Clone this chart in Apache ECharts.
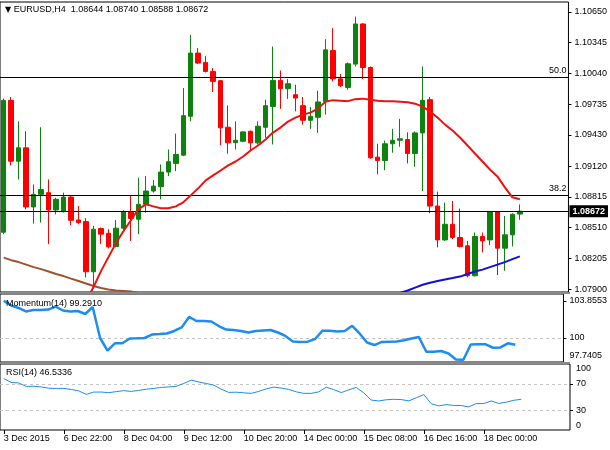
<!DOCTYPE html>
<html><head><meta charset="utf-8">
<script src="https://cdn.jsdelivr.net/npm/echarts@6/dist/echarts.min.js"></script>
<style>html,body{margin:0;padding:0;background:#fff}#c{width:610px;height:450px}</style>
</head><body><div id="c"></div>
<script>
// ---- data (EURUSD H4) ----
const opens  = [1.08464,1.09773,1.09169,1.09302,1.08715,1.08840,1.08857,1.08685,1.08669,1.08813,
                1.08586,1.08570,1.08072,1.08501,1.08454,1.08323,1.08504,1.08669,1.08593,1.08741,
                1.08873,1.08916,1.09061,1.09147,1.09229,1.09615,1.10242,1.10149,1.10060,1.09968,
                1.09506,1.09354,1.09367,1.09466,1.09351,1.09506,1.09713,1.09971,1.09888,1.09829,
                1.09720,1.09575,1.09605,1.09763,1.10267,1.09987,1.09901,1.10133,1.10531,1.10099,
                1.09209,1.09176,1.09342,1.09377,1.09384,1.09246,1.09450,1.09780,1.08724,1.08388,
                1.08543,1.08412,1.08329,1.08032,1.08422,1.08388,1.08669,1.08306,1.08438,1.08644];
const closes = [1.09773,1.09169,1.09302,1.08715,1.08840,1.08887,1.08685,1.08791,1.08813,1.08583,
                1.08560,1.08072,1.08494,1.08445,1.08319,1.08504,1.08669,1.08600,1.08741,1.08873,
                1.08922,1.09061,1.09164,1.09236,1.09621,1.10242,1.10143,1.10060,1.09961,1.09500,
                1.09351,1.09377,1.09460,1.09351,1.09516,1.09720,1.09971,1.09888,1.09938,1.09796,
                1.09575,1.09615,1.09757,1.10274,1.09987,1.09918,1.10136,1.10531,1.10099,1.09203,
                1.09176,1.09342,1.09377,1.09391,1.09246,1.09450,1.09773,1.08724,1.08388,1.08543,
                1.08412,1.08323,1.08032,1.08422,1.08378,1.08669,1.08306,1.08438,1.08642,1.08672];
const lows   = [1.08445,1.09127,1.08988,1.08692,1.08550,1.08560,1.08346,1.08642,1.08659,1.08534,
                1.08543,1.08016,1.07933,1.08346,1.08303,1.08313,1.08487,1.08378,1.08445,1.08659,
                1.08857,1.08791,1.09021,1.09071,1.09219,1.09565,1.10133,1.10050,1.09856,1.09328,
                1.09243,1.09285,1.09357,1.09268,1.09335,1.09401,1.09335,1.09688,1.09787,1.09664,
                1.09532,1.09490,1.09450,1.09631,1.09961,1.09905,1.09879,1.10109,1.09984,1.09193,
                1.09038,1.09080,1.09253,1.09312,1.09147,1.09114,1.08873,1.08652,1.08313,1.08378,
                1.08395,1.08313,1.08016,1.08026,1.08264,1.08336,1.08039,1.08082,1.08323,1.08588];
const highs  = [1.09790,1.09806,1.09565,1.09466,1.08939,1.09506,1.08988,1.08807,1.08857,1.08823,
                1.08724,1.08603,1.08527,1.08511,1.08494,1.08586,1.08682,1.08823,1.09005,1.09021,
                1.08982,1.09137,1.09285,1.09443,1.09895,1.10423,1.10291,1.10215,1.10093,1.09977,
                1.09723,1.09565,1.09466,1.09473,1.09565,1.09780,1.10307,1.10069,1.09984,1.09928,
                1.09806,1.09707,1.09869,1.10380,1.10489,1.10034,1.10149,1.10604,1.10538,1.10109,
                1.09342,1.09374,1.09490,1.09589,1.09456,1.09466,1.10109,1.09806,1.08867,1.08758,
                1.08774,1.08699,1.08378,1.08461,1.08461,1.08675,1.08675,1.08626,1.08652,1.08740];

// moving averages, with the bar index where each starts
const maRedStart = 11;
const maRed = [1.07780,1.07920,1.08078,1.08217,1.08356,1.08474,1.08583,1.08692,1.08741,1.08721,
               1.08702,1.08702,1.08721,1.08761,1.08830,1.08900,1.08979,1.09028,1.09077,1.09127,
               1.09166,1.09216,1.09275,1.09325,1.09384,1.09453,1.09503,1.09562,1.09602,1.09631,
               1.09651,1.09691,1.09760,1.09775,1.09770,1.09765,1.09785,1.09790,1.09780,1.09770,
               1.09765,1.09763,1.09760,1.09755,1.09740,1.09710,1.09661,1.09602,1.09532,1.09473,
               1.09404,1.09325,1.09246,1.09166,1.09087,1.09018,1.08909,1.08811,1.08791];
const maBlueStart = 53;
const maBlue = [1.07861,1.07886,1.07915,1.07943,1.07963,1.07980,1.07995,1.08009,1.08024,1.08049,
                1.08074,1.08093,1.08118,1.08143,1.08168,1.08197,1.08224];
const maBrownStart = 0;
const maBrown = [1.08212,1.08187,1.08168,1.08143,1.08118,1.08098,1.08074,1.08049,1.08029,1.08004,
                 1.07980,1.07955,1.07930,1.07910,1.07896,1.07886,1.07881,1.07876,1.07861];

const momentum = [103.86,103.37,103.11,102.75,102.90,102.90,102.95,103.26,102.85,102.75,
                  102.80,102.49,103.21,100.00,98.70,99.45,99.45,99.95,99.97,100.00,
                  100.36,100.41,100.47,100.73,101.09,102.18,101.76,101.76,101.71,101.24,
                  100.88,100.83,100.73,100.57,100.73,100.78,100.83,100.57,100.21,99.64,
                  99.59,99.62,99.90,100.76,100.76,100.67,100.73,101.26,100.47,99.53,
                  99.27,99.59,99.62,99.64,99.76,99.95,100.10,98.58,98.58,98.65,
                  98.39,97.78,97.74,99.33,99.35,99.35,98.99,99.02,99.45,99.291];
const rsi = [78.0,72.0,71.3,66.0,66.3,65.3,63.3,63.0,63.0,61.5,
             59.3,54.0,57.5,57.5,56.6,58.1,59.6,58.5,60.0,61.8,
             63.0,64.5,65.3,66.3,70.5,75.5,72.8,70.5,68.0,61.8,
             57.0,57.3,56.3,55.5,58.5,62.3,65.0,63.5,61.5,57.8,
             55.5,55.5,57.8,64.8,61.2,56.7,60.8,64.5,56.3,45.3,
             44.0,45.8,46.5,46.1,44.1,48.8,53.7,39.8,36.6,38.4,
             37.2,37.1,35.0,40.1,40.1,44.0,40.2,42.2,45.0,46.53];

const timeLabels = ['3 Dec 2015','6 Dec 22:00','8 Dec 04:00','9 Dec 12:00','10 Dec 20:00',
                    '14 Dec 00:00','15 Dec 08:00','16 Dec 16:00','18 Dec 00:00'];
const priceTicks = ['1.07900','1.08205','1.08510','1.08815','1.09120','1.09430','1.09735','1.10040','1.10345','1.10650'];
const momTicks = ['97.7405','100','103.8553'];
const rsiTicks = ['0','30','70','100'];
const fibLevels = [{name:'50.0', value:1.10000},{name:'38.2', value:1.08830}];
const lastPrice = '1.08672';
const headerText = 'EURUSD,H4  1.08644 1.08740 1.08588 1.08672';
const momText = 'Momentum(14) 99.2910';
const rsiText = 'RSI(14) 46.5336';
const momLevel = 100;
const rsiLevels = [30, 70];

// ---- chart ----
const FONT = '"Liberation Sans", Arial, sans-serif';
const N = 76;          // visible bar slots (last ones empty)
const LABEL_STEP = 8;
const categories = Array.from({length:N}, (_, i) =>
  (i % LABEL_STEP === 0 && i / LABEL_STEP < timeLabels.length) ? timeLabels[i / LABEL_STEP] : '');
const showIdx = (i) => i % LABEL_STEP === 0 && i / LABEL_STEP < timeLabels.length;
const candles = opens.map((o, i) => [o, closes[i], lows[i], highs[i]]);
const pad = (start, arr) => Array(start).fill(null).concat(arr);

const GREEN = '#0E820E', RED = '#FF0000', BLUE_IND = '#1E8CF0';
const txt = {fontSize: 9, color: '#000', fontFamily: FONT};

const grids = [
  {left: 0, top: 2, width: 570, height: 290},
  {left: 0, top: 294, width: 570, height: 68},
  {left: 0, top: 364, width: 570, height: 66}
].map(g => Object.assign(g, {show: true, borderColor: '#000', borderWidth: 1, backgroundColor: 'transparent'}));

const xAxes = [0, 1, 2].map(gi => ({
  type: 'category', gridIndex: gi, data: categories, boundaryGap: true,
  axisLine: {show: false},
  axisTick: gi === 2 ? {show: true, interval: (i) => showIdx(i), alignWithLabel: true, length: 4, lineStyle: {color: '#000'}} : {show: false},
  axisLabel: gi === 2 ? Object.assign({show: true, interval: (i) => showIdx(i), align: 'left', margin: 4}, txt) : {show: false},
  splitLine: {show: false}
}));

function yAx(gi, min, max, vals, fmt, extra) {
  return Object.assign({
    type: 'value', gridIndex: gi, position: 'right', min: min, max: max,
    axisLine: {show: false}, splitLine: {show: false},
    axisTick: {show: true, length: 3, customValues: vals, lineStyle: {color: '#000'}},
    axisLabel: Object.assign({show: true, customValues: vals, formatter: fmt, margin: 6}, txt)
  }, extra || {});
}
const pNum = priceTicks.map(Number);
const mNum = momTicks.map(Number);
const rNum = rsiTicks.map(Number);
const momMin = 97.513, momMax = 104.56;
const yAxes = [
  yAx(0, 1.07871, 1.10749, pNum, v => v.toFixed(5)),
  yAx(1, momMin, momMax, mNum.slice(1), v => String(v)),
  yAx(1, momMin, momMax, mNum.slice(0, 1), v => String(v)),
  yAx(2, 0, 100, rNum.slice(1, 3), v => String(v)),
  yAx(2, 0, 100, rNum.slice(0, 1), v => String(v)),
  yAx(2, 0, 100, rNum.slice(3), v => String(v))
];
yAxes[2].axisLabel.verticalAlign = 'bottom'; yAxes[2].axisTick.show = false;
yAxes[4].axisLabel.verticalAlign = 'bottom'; yAxes[4].axisTick.show = false;
yAxes[5].axisLabel.verticalAlign = 'top';    yAxes[5].axisTick.show = false;

const lineS = (data, color, width, xi, yi, z) => ({
  type: 'line', data: data, xAxisIndex: xi, yAxisIndex: yi, showSymbol: false, symbol: 'none',
  lineStyle: {color: color, width: width}, itemStyle: {color: color}, z: z, clip: true, silent: true,
  connectNulls: false
});

const option = {
  animation: false,
  backgroundColor: '#fff',
  title: [
    {text: '{tri|▼} ' + headerText, left: 5, top: 4, padding: 0,
     textStyle: Object.assign({fontWeight: 'normal', lineHeight: 11,
       rich: {tri: {fontSize: 8, color: '#000', fontFamily: '"DejaVu Sans", sans-serif'}}}, txt)},
    {text: momText, left: 6, top: 298, padding: 0, textStyle: Object.assign({fontWeight: 'normal', lineHeight: 11}, txt)},
    {text: rsiText, left: 6, top: 367, padding: 0, textStyle: Object.assign({fontWeight: 'normal', lineHeight: 11}, txt)}
  ],
  grid: grids,
  xAxis: xAxes,
  yAxis: yAxes,
  graphic: [
    {type: 'rect', shape: {x: 0, y: 292, width: 570, height: 2}, style: {fill: '#8a8a8a'}, silent: true, z: 100},
    {type: 'rect', shape: {x: 0, y: 362, width: 570, height: 2}, style: {fill: '#8a8a8a'}, silent: true, z: 100}
  ],
  series: [
    {
      type: 'candlestick', data: candles, xAxisIndex: 0, yAxisIndex: 0, barWidth: 5, z: 3, silent: true,
      itemStyle: {color: GREEN, color0: RED, borderColor: GREEN, borderColor0: RED, borderWidth: 1},
      markLine: {
        silent: true, symbol: ['none', 'none'], animation: false, precision: 5,
        lineStyle: {color: '#000', width: 1, type: 'solid'},
        data: fibLevels.map(f => ({yAxis: f.value,
          label: Object.assign({show: true, formatter: f.name, position: 'insideEndTop', distance: 2}, txt)}))
          .concat([{yAxis: Number(lastPrice),
            label: Object.assign({show: true, formatter: lastPrice, position: 'end', distance: 1,
              backgroundColor: '#000', padding: [2, 3, 1, 3]}, txt, {color: '#fff', fontWeight: 'bold'})}])
      }
    },
    lineS(pad(maBrownStart, maBrown), '#A0522D', 2, 0, 0, 4),
    lineS(pad(maBlueStart, maBlue), '#1010D8', 2, 0, 0, 5),
    lineS(pad(maRedStart, maRed), '#EE1111', 2, 0, 0, 5),
    Object.assign(lineS(momentum, BLUE_IND, 2.5, 1, 1, 5), {
      markLine: {silent: true, symbol: ['none', 'none'], label: {show: false}, precision: 5,
        lineStyle: {color: '#c4c4c4', width: 1, type: [3, 3]}, data: [{yAxis: momLevel}]}
    }),
    Object.assign(lineS(rsi, BLUE_IND, 1, 2, 3, 5), {
      markLine: {silent: true, symbol: ['none', 'none'], label: {show: false}, precision: 5,
        lineStyle: {color: '#c4c4c4', width: 1, type: [3, 3]}, data: rsiLevels.map(v => ({yAxis: v}))}
    })
  ]
};
const chart = echarts.init(document.getElementById('c'));
chart.setOption(option);
</script>
</body></html>
